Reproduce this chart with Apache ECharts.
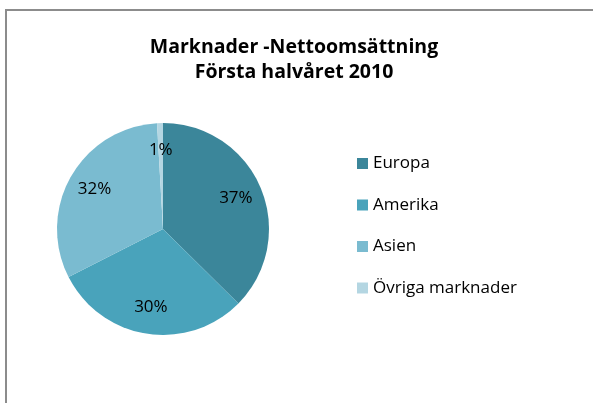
<!DOCTYPE html>
<html lang="sv">
<head>
    <meta charset="UTF-8">
    <title>Marknader - Nettoomsättning</title>
    <script src="https://cdn.jsdelivr.net/npm/echarts@6/dist/echarts.min.js"></script>
    <style type="text/css">
        html, body { height: 100%; margin: 0; background: #ffffff; }
        #main { width: 593px; height: 403px; }
    </style>
</head>
<body>
    <div id="main"></div>
    <script type="text/javascript">
        // data
        var markets = ['Europa', 'Amerika', 'Asien', 'Övriga marknader'];
        var shares = [37.4, 30.1, 31.6, 0.9];
        var colors = ['#3b869a', '#49a3bb', '#7abbd0', '#b4d6e2'];

        var pieData = markets.map(function (name, i) {
            return { name: name, value: shares[i], itemStyle: { color: colors[i] } };
        });

        var chart = echarts.init(document.getElementById('main'));
        var font = '"Open Sans", Lato, sans-serif';
        var center = [163, 229];

        var option = {
            animation: false,
            // chart frame (Excel chart area border)
            graphic: [{
                type: 'rect',
                shape: { x: 6, y: 10, width: 800, height: 600 },
                style: { fill: 'none', stroke: '#8c8c8c', lineWidth: 2 },
                silent: true
            }],
            title: {
                text: 'Marknader -Nettoomsättning\nFörsta halvåret 2010',
                left: 289,
                textAlign: 'center',
                top: 30,
                textStyle: {
                    fontFamily: font,
                    fontSize: 19.5,
                    fontWeight: 'bold',
                    lineHeight: 25,
                    color: '#000'
                }
            },
            legend: {
                orient: 'vertical',
                left: 352,
                top: 150,
                itemWidth: 11,
                itemHeight: 11,
                itemGap: 24.5,
                icon: 'rect',
                data: markets,
                textStyle: { fontFamily: font, fontSize: 17, color: '#000' }
            },
            series: [
                {
                    // the pie itself
                    type: 'pie',
                    center: center,
                    radius: [0, 106],
                    startAngle: 90,
                    clockwise: true,
                    label: { show: false },
                    labelLine: { show: false },
                    emphasis: { disabled: true },
                    data: pieData
                },
                {
                    // transparent ring only used to place the percent labels further out
                    type: 'pie',
                    center: center,
                    radius: [46, 106],
                    startAngle: 90,
                    clockwise: true,
                    silent: true,
                    percentPrecision: 0,
                    itemStyle: { color: 'rgba(0,0,0,0)' },
                    label: {
                        show: true,
                        position: 'inside',
                        formatter: '{d}%',
                        fontFamily: font,
                        fontSize: 17,
                        color: '#000'
                    },
                    labelLine: { show: false },
                    emphasis: { disabled: true },
                    data: markets.map(function (name, i) {
                        return { name: name, value: shares[i] };
                    })
                }
            ]
        };
        chart.setOption(option);
    </script>
</body>
</html>
